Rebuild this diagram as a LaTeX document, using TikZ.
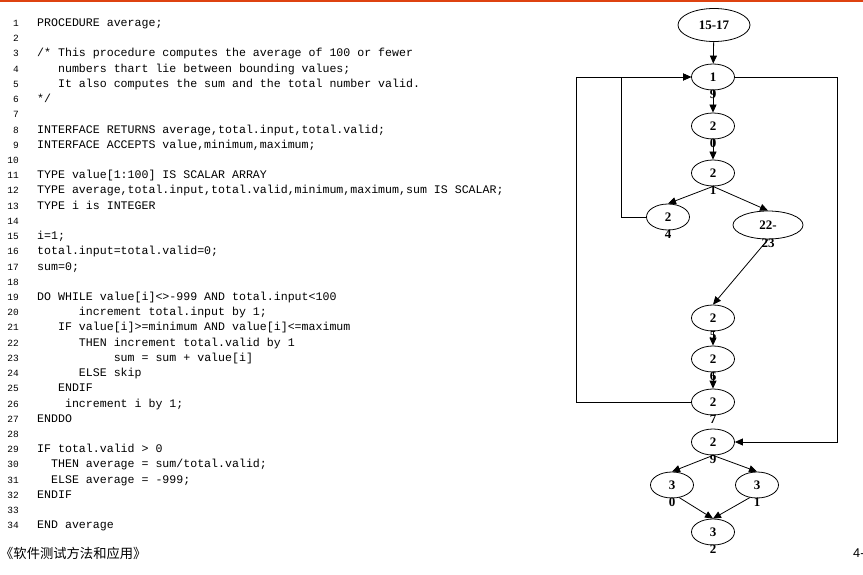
\documentclass[tikz,border=0pt]{standalone}
\usepackage{fontspec}
\setmainfont{Liberation Serif}
\setmonofont{Liberation Mono}
\newfontfamily\cjkfont{Noto Sans CJK SC}
\newfontfamily\pagefont{Liberation Sans}
\usepackage{xcolor}
\usepackage{tikz}
\usetikzlibrary{arrows.meta,positioning,shapes}
\definecolor{topbar}{RGB}{222,66,16}

\begin{document}
\begin{tikzpicture}
[x=1pt,y=-1pt,
 blk/.style={ellipse,draw,line width=0.8pt,inner sep=0pt,minimum width=43pt,minimum height=26pt,font=\bfseries\fontsize{13}{13}\selectfont},
 num/.style={inner sep=0pt,font=\bfseries\fontsize{13}{13}\selectfont},
 arr/.style={-{Triangle[length=8pt,width=7pt]},line width=0.8pt},
 code/.style={inner sep=0pt,font=\ttfamily\fontsize{11.6}{15}\selectfont},
 lnum/.style={inner sep=0pt,font=\ttfamily\fontsize{9.5}{9}\selectfont}];
\useasboundingbox (0,0) rectangle (863,575);
\fill[topbar] (0,0) rectangle (863,2);

% program listing
\foreach \src [count=\k] in {
 {PROCEDURE average;},
 {},
 {/* This procedure computes the average of 100 or fewer},
 {~~~numbers thart lie between bounding values;},
 {~~~It also computes the sum and the total number valid.},
 {*/},
 {},
 {INTERFACE RETURNS average,total.input,total.valid;},
 {INTERFACE ACCEPTS value,minimum,maximum;},
 {},
 {TYPE value[1:100] IS SCALAR ARRAY},
 {TYPE average,total.input,total.valid,minimum,maximum,sum IS SCALAR;},
 {TYPE i is INTEGER},
 {},
 {i=1;},
 {total.input=total.valid=0;},
 {sum=0;},
 {},
 {DO WHILE value[i]<>-999 AND total.input<100},
 {~~~~~~increment total.input by 1;},
 {~~~IF value[i]>=minimum AND value[i]<=maximum},
 {~~~~~~THEN increment total.valid by 1},
 {~~~~~~~~~~~sum = sum + value[i]},
 {~~~~~~ELSE skip},
 {~~~ENDIF},
 {~~~~increment i by 1;},
 {ENDDO},
 {},
 {IF total.valid > 0},
 {~~THEN average = sum/total.valid;},
 {~~ELSE average = -999;},
 {ENDIF},
 {},
 {END average}}
{
 \node[code,anchor=base west] (c\k) at (37,26.5+15.22*\k-15.22) {\src};
 \node[lnum,anchor=base east] (l\k) at (19,26.5+15.22*\k-15.22) {\k};
}

% flow graph
\node[blk,minimum width=72pt,minimum height=33pt] (n1517) at (714,25) {15-17};
\node[blk,label={[num,label distance=-1pt]below:9}] (n19) at (713,77) {1};
\node[blk,label={[num,label distance=-1pt]below:0}] (n20) at (713,126) {2};
\node[blk,label={[num,label distance=-1pt]below:1}] (n21) at (713,173) {2};
\node[blk,label={[num,label distance=-1pt]below:4}] (n24) at (668,217) {2};
\node[blk,minimum width=70pt,minimum height=28pt,label={[num,label distance=-1pt]below:23}] (n2223) at (768,225) {22-};
\node[blk,label={[num,label distance=-1pt]below:5}] (n25) at (713,318) {2};
\node[blk,label={[num,label distance=-1pt]below:6}] (n26) at (713,359) {2};
\node[blk,label={[num,label distance=-1pt]below:7}] (n27) at (713,402) {2};
\node[blk,label={[num,label distance=-1pt]below:9}] (n29) at (713,442) {2};
\node[blk,label={[num,label distance=-1pt]below:0}] (n30) at (672,485) {3};
\node[blk,label={[num,label distance=-1pt]below:1}] (n31) at (757,485) {3};
\node[blk,label={[num,label distance=-1pt]below:2}] (n32) at (713,532) {3};

\draw[arr] (n1517) -- (n19);
\draw[arr] (n19) -- (n20);
\draw[arr] (n20) -- (n21);
\draw[arr] (n21.south) -- (n24.north);
\draw[arr] (n21.south) -- (n2223.north);
\draw[arr] (n2223.south) -- (n25.north);
\draw[arr] (n25) -- (n26);
\draw[arr] (n26) -- (n27);
\draw[arr] (n24.west) -- ++(-25,0) |- (n19.west);
\draw[arr] (n27.west) -- ++(-115,0) |- (n19.west);
\draw[arr] (n19.east) -- ++(102,0) |- (n29.east);
\draw[arr] (n29.south) -- (n30.north);
\draw[arr] (n29.south) -- (n31.north);
\draw[arr] (n30.-60) -- (n32.north);
\draw[arr] (n31.-120) -- (n32.north);

% footer
\node[inner sep=0pt,anchor=west] (foot) at (0,553) {\cjkfont\fontsize{13.3}{14}\selectfont 《软件测试方法和应用》};
\node[inner sep=0pt,anchor=west] (page) at (853,553) {\pagefont\fontsize{12.7}{13}\selectfont 4-};
\end{tikzpicture}
\end{document}
